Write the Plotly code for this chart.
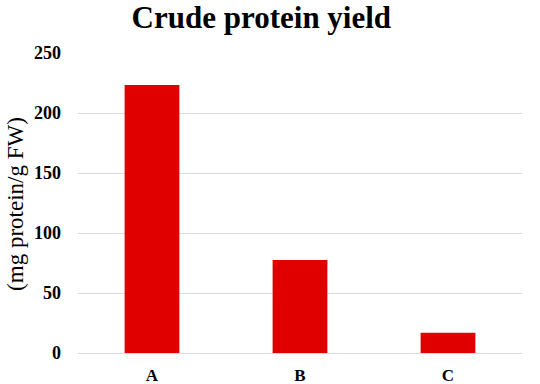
import plotly.graph_objects as go

categories = ["A", "B", "C"]
values = [223.3, 77.5, 16.8]
y_ticks = [0, 50, 100, 150, 200, 250]

serif = "Liberation Serif, Times New Roman, serif"

fig = go.Figure(
    go.Bar(
        x=categories,
        y=values,
        marker=dict(color="#E00000", line=dict(width=0)),
        width=0.37,
    )
)

fig.update_layout(
    width=540,
    height=384,
    margin=dict(l=78, r=18, t=53, b=31),
    paper_bgcolor="white",
    plot_bgcolor="white",
    showlegend=False,
    title=dict(
        text="<b>Crude protein yield</b>",
        font=dict(family=serif, size=31, color="black"),
        x=0.484,
        xanchor="center",
        xref="container",
        y=0.955,
        yanchor="middle",
    ),
    annotations=[
        dict(
            text="(mg protein/g FW)",
            xref="paper",
            yref="paper",
            x=(16 - 78) / 444,
            y=0.497,
            xanchor="center",
            yanchor="middle",
            textangle=-90,
            showarrow=False,
            font=dict(family=serif, size=23, color="black"),
        )
    ],
)

fig.update_xaxes(
    showgrid=False,
    showline=False,
    ticks="",
    automargin=False,
    tickfont=dict(family=serif, size=17, color="black"),
    tickprefix="<b>",
    ticksuffix="</b>",
    ticklabelstandoff=10,
)

fig.update_yaxes(
    range=[0, 250],
    tickvals=y_ticks,
    ticktext=[f"<b>{v}</b>" for v in y_ticks],
    showgrid=True,
    gridcolor="#d9d9d9",
    gridwidth=1,
    zeroline=True,
    zerolinecolor="#d9d9d9",
    zerolinewidth=1,
    showline=False,
    ticks="",
    automargin=False,
    tickfont=dict(family=serif, size=18, color="black"),
    ticklabelstandoff=16,
)

fig.write_html("out.html")
